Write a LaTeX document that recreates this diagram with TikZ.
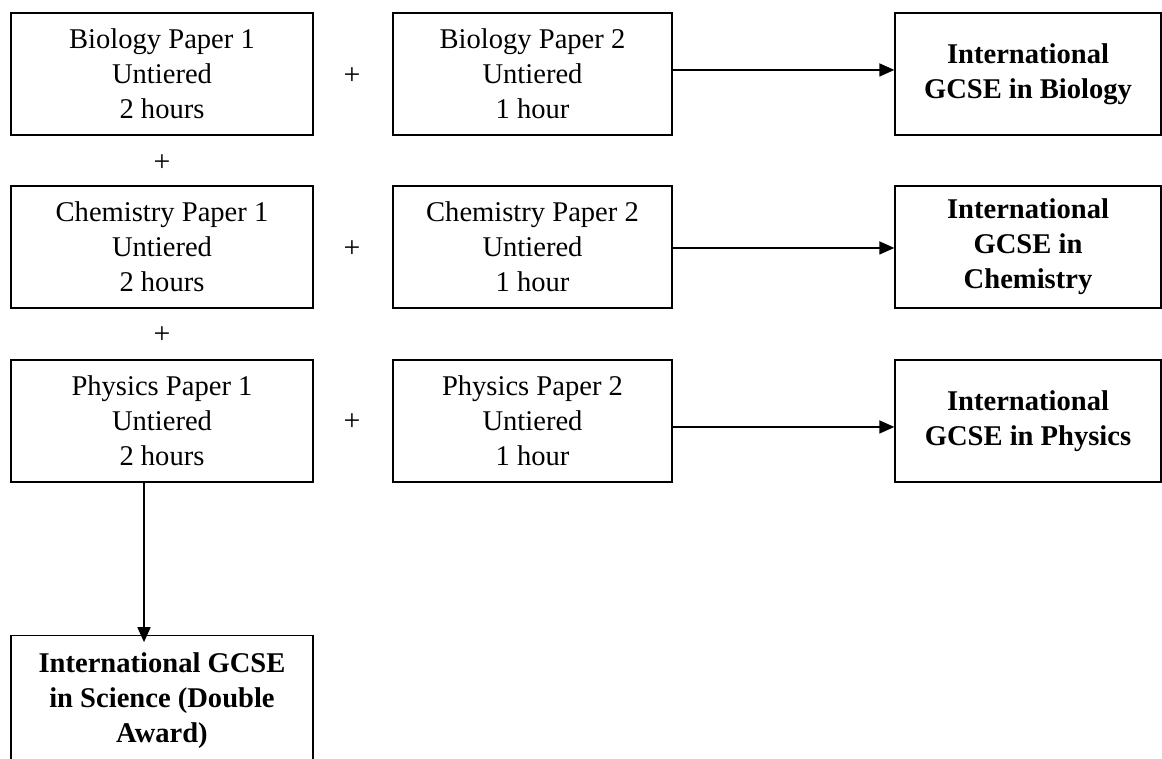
\documentclass[tikz,border=0pt]{standalone}
\usepackage{fontspec}
\setmainfont{Liberation Serif}
\usetikzlibrary{arrows.meta}
\begin{document}
\begin{tikzpicture}[x=0.42pt,y=-0.42pt,
    box/.style={draw,line width=0.6pt,align=center,inner sep=0pt,
      minimum height=51.24pt,font=\fontsize{12}{14.7}\selectfont},
    paperA/.style={box,minimum width=126.84pt},
    paperB/.style={box,minimum width=117.18pt},
    award/.style={box,minimum width=111.72pt,
      font=\fontsize{12}{14.7}\selectfont\bfseries},
    plus/.style={font=\fontsize{12.5}{14.7}\selectfont,inner sep=0pt},
    >={Triangle[length=6.3pt,width=5.5pt]}]
  \useasboundingbox (0,0) rectangle (1162,758);
  \clip (0,0) rectangle (1162,758);
  % papers
  \node [paperA] (bioA) at (162,74) {Biology Paper 1\\Untiered\\2 hours};
  \node [paperB] (bioB) at (532.5,74) {Biology Paper 2\\Untiered\\1 hour};
  \node [paperA] (chemA) at (162,247) {Chemistry Paper 1\\Untiered\\2 hours};
  \node [paperB] (chemB) at (532.5,247) {Chemistry Paper 2\\Untiered\\1 hour};
  \node [paperA] (physA) at (162,421) {Physics Paper 1\\Untiered\\2 hours};
  \node [paperB] (physB) at (532.5,421) {Physics Paper 2\\Untiered\\1 hour};
  % awards
  \node [award] (bioR) at (1028,74) {International\\GCSE in Biology};
  \node [award] (chemR) at (1028,247) {International\\GCSE in\\Chemistry};
  \node [award] (physR) at (1028,421) {International\\GCSE in Physics};
  \node [paperA,font=\fontsize{12}{14.7}\selectfont\bfseries,
    minimum height=54.6pt,anchor=north] (dbl) at (162,635)
    {International GCSE\\in Science (Double\\Award)};
  % plus signs
  \node [plus] (plusBio) at (352,76) {+};
  \node [plus] (plusChem) at (352,249) {+};
  \node [plus] (plusPhys) at (352,422) {+};
  \node [plus] (plusBC) at (162,163) {+};
  \node [plus] (plusCP) at (162,335) {+};
  % arrows
  \draw [->,line width=0.6pt] ([yshift=1.7pt]bioB.east) -- ([yshift=1.7pt]bioR.west);
  \draw [->,line width=0.6pt] ([yshift=-0.4pt]chemB.east) -- ([yshift=-0.4pt]chemR.west);
  \draw [->,line width=0.6pt] ([yshift=-2.5pt]physB.east) -- ([yshift=-2.5pt]physR.west);
  \coordinate (drop) at (144,482);
  \draw [->,line width=0.6pt] (drop) -- ([yshift=-3pt]drop |- dbl.north);
\end{tikzpicture}
\end{document}
